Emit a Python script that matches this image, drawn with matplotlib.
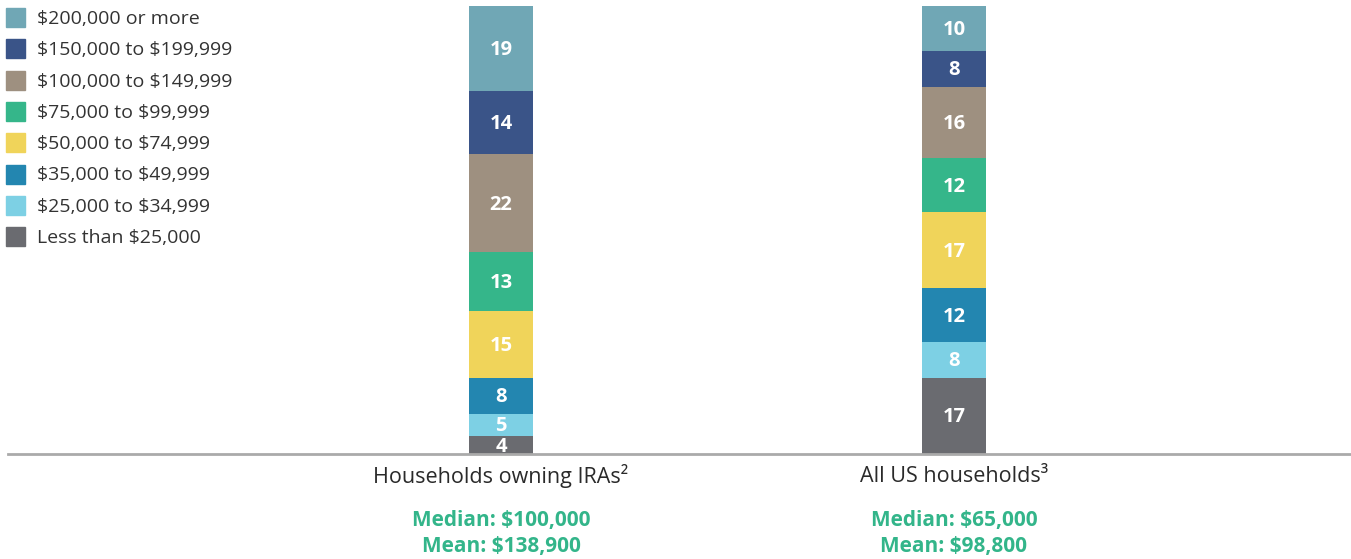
import matplotlib
matplotlib.use("Agg")
import matplotlib.pyplot as plt
from matplotlib.patches import Rectangle
from matplotlib.transforms import offset_copy

plt.rcParams['font.family'] = ['Open Sans', 'DejaVu Sans']
plt.rcParams['text.parse_math'] = False

categories = ["Households owning IRAs\u00b2", "All US households\u00b3"]
income_groups = ["Less than $25,000", "$25,000 to $34,999", "$35,000 to $49,999",
                 "$50,000 to $74,999", "$75,000 to $99,999", "$100,000 to $149,999",
                 "$150,000 to $199,999", "$200,000 or more"]
ira_values = [4, 5, 8, 15, 13, 22, 14, 19]
us_values = [17, 8, 12, 17, 12, 16, 8, 10]
medians = ["Median: $100,000", "Median: $65,000"]
means = ["Mean: $138,900", "Mean: $98,800"]
colors = ["#6a6b70", "#7dd0e4", "#2386b0", "#f0d45a", "#35b68a", "#9e9080",
          "#3a5488", "#70a7b5"]

W, H = 1351, 559
fig = plt.figure(figsize=(W / 100, H / 100), dpi=100)

def fx(px):
    return px / W

def fy(py):
    return 1 - py / H

ax = fig.add_axes([fx(8), fy(454), fx(1351 - 8), fy(6) - fy(454)])
xs = [0, 1]
xl = (8 - 501) / 453
xr = (1351 - 501) / 453
ax.set_xlim(xl, xr)
ax.set_ylim(0, 100)
bw = 64 / 453

lab_tr = offset_copy(ax.transData, fig=fig, x=0, y=-1.5, units='dots')

series = [ira_values, us_values]
for xi, vals in zip(xs, series):
    bottom = 0
    for v, c in zip(vals, colors):
        ax.bar(xi, v, bottom=bottom, width=bw, color=c, edgecolor='none')
        ax.text(xi, bottom + v / 2, str(v), ha='center', va='center',
                color='white', fontsize=14.5, fontweight='bold', transform=lab_tr)
        bottom += v

ax.axis('off')
ax.axhline(0, color='#aaaaaa', lw=2, clip_on=False)

# category labels and stats
for xi, cat, med, mn in zip(xs, categories, medians, means):
    xpix = 501 + xi * 453
    fig.text(fx(xpix), fy(476), cat, ha='center', va='center', fontsize=15.5,
             color='#2a2a2a')
    fig.text(fx(xpix), fy(520.5), med, ha='center', va='center', fontsize=15,
             color='#33b58a', fontweight='bold')
    fig.text(fx(xpix), fy(546.5), mn, ha='center', va='center', fontsize=15,
             color='#33b58a', fontweight='bold')

# legend (top to bottom reversed order)
for i, (lab, c) in enumerate(zip(income_groups[::-1], colors[::-1])):
    yc = 17.5 + i * 31.3
    fig.patches.append(Rectangle((fx(6), fy(yc + 9.5)), fx(19), fy(yc - 9.5) - fy(yc + 9.5),
                                 transform=fig.transFigure, color=c))
    fig.text(fx(37), fy(yc + 1.5), lab, ha='left', va='center', fontsize=14,
             color='#333333')

fig.savefig("out.png", dpi=100)
